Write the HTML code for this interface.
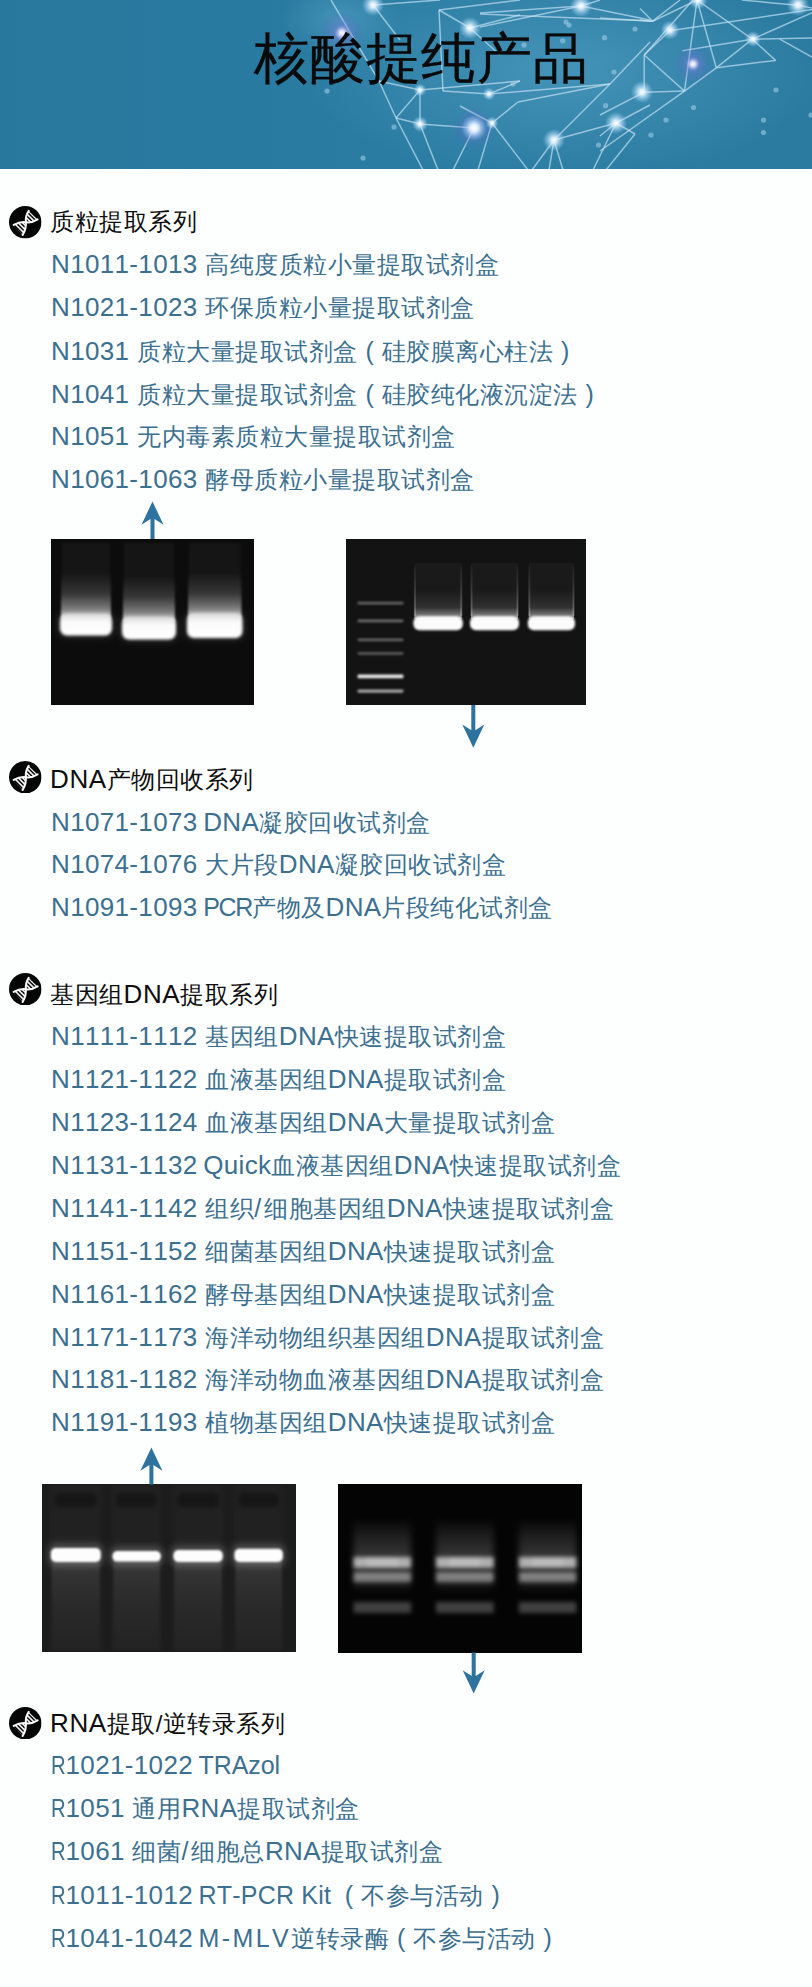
<!DOCTYPE html>
<html><head><meta charset="utf-8">
<style>
html,body{margin:0;padding:0;background:#fdfefe;}
body{width:812px;height:1987px;position:relative;overflow:hidden;font-family:"Liberation Sans",sans-serif;font-kerning:none;}
.banner{position:absolute;left:0;top:0;width:812px;height:169px;overflow:hidden;}
.title{position:absolute;left:254px;top:22.5px;font-size:55px;letter-spacing:0.8px;-webkit-text-stroke:0.35px #0a0a0a;line-height:70px;color:#0a0a0a;white-space:nowrap;}
.sec{position:absolute;left:50px;font-size:24px;letter-spacing:0.5px;line-height:30px;color:#0e0e0e;white-space:nowrap;}
.ico{position:absolute;left:9.2px;}
.it{position:absolute;left:51px;font-size:24px;letter-spacing:0.5px;line-height:30px;color:#3c7090;white-space:nowrap;}
b{font-weight:normal;font-size:26px;letter-spacing:0.35px;line-height:1px;}
.sec b{letter-spacing:0.6px;}
i{display:inline-block;width:7.7px;}
.pl,.pr{display:inline-block;width:24px;text-align:center;font-size:25px;letter-spacing:0;}
.pk{display:inline-block;width:22px;text-align:right;padding-right:8px;font-size:25px;letter-spacing:0;}
.r{display:inline-block;transform:scaleX(0.78);transform-origin:0 0;margin-right:-4.6px;}
.gel{position:absolute;}
</style></head><body>
<svg width="0" height="0" style="position:absolute"><defs>
<clipPath id="l1"><path d="M4.6,18.6 Q11,15.2 16.6,16 Q17.2,22 13.4,28.6 Z"/></clipPath><clipPath id="l2"><path d="M16.6,16 Q22.5,16.8 28.2,13.2 L19.4,4.8 Q16,10 16.6,16 Z"/></clipPath>
<symbol id="dna" viewBox="0 0 32 32">
<circle cx="16" cy="16" r="16" fill="#050505"/>
<g stroke="#f2f2f2" stroke-width="1.6" clip-path="url(#l1)"><line x1="-21.60" y1="11.60" x2="20.40" y2="53.60"/><line x1="-19.45" y1="9.45" x2="22.55" y2="51.45"/><line x1="-17.30" y1="7.30" x2="24.70" y2="49.30"/><line x1="-15.15" y1="5.15" x2="26.85" y2="47.15"/><line x1="-13.00" y1="3.00" x2="29.00" y2="45.00"/><line x1="-10.85" y1="0.85" x2="31.15" y2="42.85"/><line x1="-8.70" y1="-1.30" x2="33.30" y2="40.70"/><line x1="-6.55" y1="-3.45" x2="35.45" y2="38.55"/><line x1="-4.40" y1="-5.60" x2="37.60" y2="36.40"/><line x1="-2.25" y1="-7.75" x2="39.75" y2="34.25"/><line x1="-0.10" y1="-9.90" x2="41.90" y2="32.10"/><line x1="2.05" y1="-12.05" x2="44.05" y2="29.95"/><line x1="4.20" y1="-14.20" x2="46.20" y2="27.80"/><line x1="6.35" y1="-16.35" x2="48.35" y2="25.65"/><line x1="8.50" y1="-18.50" x2="50.50" y2="23.50"/><line x1="10.65" y1="-20.65" x2="52.65" y2="21.35"/><line x1="12.80" y1="-22.80" x2="54.80" y2="19.20"/></g>
<g stroke="#f2f2f2" stroke-width="1.6" clip-path="url(#l2)"><line x1="-21.60" y1="11.60" x2="20.40" y2="53.60"/><line x1="-19.45" y1="9.45" x2="22.55" y2="51.45"/><line x1="-17.30" y1="7.30" x2="24.70" y2="49.30"/><line x1="-15.15" y1="5.15" x2="26.85" y2="47.15"/><line x1="-13.00" y1="3.00" x2="29.00" y2="45.00"/><line x1="-10.85" y1="0.85" x2="31.15" y2="42.85"/><line x1="-8.70" y1="-1.30" x2="33.30" y2="40.70"/><line x1="-6.55" y1="-3.45" x2="35.45" y2="38.55"/><line x1="-4.40" y1="-5.60" x2="37.60" y2="36.40"/><line x1="-2.25" y1="-7.75" x2="39.75" y2="34.25"/><line x1="-0.10" y1="-9.90" x2="41.90" y2="32.10"/><line x1="2.05" y1="-12.05" x2="44.05" y2="29.95"/><line x1="4.20" y1="-14.20" x2="46.20" y2="27.80"/><line x1="6.35" y1="-16.35" x2="48.35" y2="25.65"/><line x1="8.50" y1="-18.50" x2="50.50" y2="23.50"/><line x1="10.65" y1="-20.65" x2="52.65" y2="21.35"/><line x1="12.80" y1="-22.80" x2="54.80" y2="19.20"/></g>
<path d="M4.6,18.6 Q11,15.2 16.6,16 Q22.5,16.8 28.2,13.2" stroke="#f8f8f8" stroke-width="2" fill="none" stroke-linecap="round"/>
<path d="M13.4,28.6 Q17.2,22 16.6,16 Q16,10 19.4,4.8" stroke="#f8f8f8" stroke-width="2" fill="none" stroke-linecap="round"/>
</symbol></defs></svg>
<svg width="0" height="0" style="position:absolute"><defs>
<filter id="blur05" x="-20%" y="-50%" width="140%" height="200%"><feGaussianBlur stdDeviation="0.6"/></filter>
<filter id="blur08" x="-20%" y="-50%" width="140%" height="200%"><feGaussianBlur stdDeviation="0.9"/></filter>
<filter id="blur1" x="-20%" y="-50%" width="140%" height="200%"><feGaussianBlur stdDeviation="1.3"/></filter>
<filter id="blur12" x="-20%" y="-50%" width="140%" height="200%"><feGaussianBlur stdDeviation="1.5"/></filter>
<filter id="blur2" x="-20%" y="-80%" width="140%" height="260%"><feGaussianBlur stdDeviation="2"/></filter>
<filter id="blur3" x="-20%" y="-30%" width="140%" height="160%"><feGaussianBlur stdDeviation="3"/></filter>
<linearGradient id="glowup" x1="0" y1="0" x2="0" y2="1"><stop offset="0" stop-color="#fff" stop-opacity="0"/><stop offset="0.45" stop-color="#fff" stop-opacity="0.14"/><stop offset="0.8" stop-color="#fff" stop-opacity="0.45"/><stop offset="1" stop-color="#fff" stop-opacity="0.85"/></linearGradient>
<linearGradient id="bandg" x1="0" y1="0" x2="0" y2="1"><stop offset="0" stop-color="#d8d8d8"/><stop offset="0.35" stop-color="#fafafa"/><stop offset="1" stop-color="#ffffff"/></linearGradient>
<linearGradient id="edge2" x1="0" y1="0" x2="0" y2="1"><stop offset="0" stop-color="#fff" stop-opacity="0.03"/><stop offset="1" stop-color="#fff" stop-opacity="0.25"/></linearGradient>
<linearGradient id="glowup2" x1="0" y1="0" x2="0" y2="1"><stop offset="0" stop-color="#fff" stop-opacity="0"/><stop offset="0.6" stop-color="#fff" stop-opacity="0.1"/><stop offset="1" stop-color="#fff" stop-opacity="0.55"/></linearGradient>
<linearGradient id="smear3" x1="0" y1="0" x2="0" y2="1"><stop offset="0" stop-color="#fff" stop-opacity="0.1"/><stop offset="0.5" stop-color="#fff" stop-opacity="0.04"/><stop offset="1" stop-color="#fff" stop-opacity="0.01"/></linearGradient>
<linearGradient id="haze4" x1="0" y1="0" x2="0" y2="1"><stop offset="0" stop-color="#fff" stop-opacity="0"/><stop offset="0.25" stop-color="#fff" stop-opacity="0.1"/><stop offset="0.55" stop-color="#fff" stop-opacity="0.2"/><stop offset="1" stop-color="#fff" stop-opacity="0.08"/></linearGradient>
</defs></svg>
<div class="banner"><svg width="812" height="169" viewBox="0 0 812 169" style="position:absolute;left:0;top:0">
<defs><linearGradient id="bg" x1="0" y1="0" x2="1" y2="0"><stop offset="0" stop-color="#28789e"/><stop offset="0.5" stop-color="#2a7ca2"/><stop offset="1" stop-color="#2b7ba1"/></linearGradient><radialGradient id="glow"><stop offset="0" stop-color="#ffffff" stop-opacity="1"/><stop offset="0.25" stop-color="#e8f6ff" stop-opacity="0.9"/><stop offset="1" stop-color="#9fd8ff" stop-opacity="0"/></radialGradient><radialGradient id="pglow"><stop offset="0" stop-color="#ffffff" stop-opacity="1"/><stop offset="0.13" stop-color="#e6e0ff" stop-opacity="0.9"/><stop offset="0.35" stop-color="#7a78d8" stop-opacity="0.4"/><stop offset="1" stop-color="#4a58b8" stop-opacity="0"/></radialGradient><radialGradient id="haze"><stop offset="0" stop-color="#5aa6cc" stop-opacity="0.55"/><stop offset="1" stop-color="#5aa6cc" stop-opacity="0"/></radialGradient></defs>
<rect width="812" height="169" fill="url(#bg)"/>
<ellipse cx="560" cy="70" rx="260" ry="110" fill="url(#haze)"/>
<ellipse cx="340" cy="20" rx="60" ry="40" fill="url(#haze)"/>
<g stroke="#c4e2f2" stroke-opacity="0.68" stroke-width="1.5" fill="none">
<line x1="331" y1="0" x2="379" y2="81"/>
<line x1="379" y1="81" x2="396" y2="118"/>
<line x1="396" y1="118" x2="423" y2="170"/>
<line x1="379" y1="81" x2="420" y2="90"/>
<line x1="420" y1="90" x2="396" y2="118"/>
<line x1="420" y1="90" x2="420" y2="124"/>
<line x1="396" y1="118" x2="420" y2="124"/>
<line x1="420" y1="124" x2="474" y2="128"/>
<line x1="420" y1="124" x2="438" y2="170"/>
<line x1="420" y1="90" x2="520" y2="81"/>
<line x1="474" y1="128" x2="453" y2="170"/>
<line x1="492" y1="123" x2="478" y2="170"/>
<line x1="460" y1="106" x2="492" y2="123"/>
<line x1="439" y1="10" x2="470" y2="28"/>
<line x1="439" y1="10" x2="443" y2="91"/>
<line x1="443" y1="91" x2="489" y2="94"/>
<line x1="439" y1="10" x2="520" y2="0"/>
<line x1="470" y1="28" x2="520" y2="15"/>
<line x1="480" y1="13" x2="581" y2="6"/>
<line x1="480" y1="27" x2="581" y2="6"/>
<line x1="581" y1="6" x2="650" y2="20"/>
<line x1="480" y1="14" x2="652" y2="21"/>
<line x1="489" y1="94" x2="610" y2="84"/>
<line x1="492" y1="123" x2="518" y2="102"/>
<line x1="518" y1="102" x2="610" y2="84"/>
<line x1="610" y1="84" x2="650" y2="42"/>
<line x1="554" y1="140" x2="610" y2="84"/>
<line x1="554" y1="140" x2="616" y2="123"/>
<line x1="616" y1="123" x2="650" y2="105"/>
<line x1="554" y1="140" x2="532" y2="170"/>
<line x1="554" y1="140" x2="563" y2="170"/>
<line x1="554" y1="140" x2="549" y2="170"/>
<line x1="492" y1="123" x2="528" y2="170"/>
<line x1="616" y1="123" x2="593" y2="170"/>
<line x1="616" y1="123" x2="635" y2="134"/>
<line x1="635" y1="134" x2="606" y2="170"/>
<line x1="373" y1="5" x2="440" y2="0"/>
<line x1="373" y1="5" x2="400" y2="40"/>
<line x1="581" y1="6" x2="600" y2="0"/>
<line x1="470" y1="28" x2="500" y2="55"/>
<line x1="489" y1="94" x2="520" y2="81"/>
<line x1="640" y1="8.5" x2="652.7" y2="21.2"/>
<line x1="640" y1="20" x2="652.7" y2="21.2"/>
<line x1="652.7" y1="21.2" x2="680" y2="0"/>
<line x1="652.7" y1="21.2" x2="697" y2="0"/>
<line x1="669.7" y1="30.7" x2="812" y2="9.5"/>
<line x1="697" y1="0" x2="716.3" y2="67.8"/>
<line x1="697" y1="0" x2="684.5" y2="91.1"/>
<line x1="697" y1="0" x2="752.3" y2="39.2"/>
<line x1="693" y1="0" x2="644.2" y2="55"/>
<line x1="644.2" y1="55" x2="684.5" y2="91.1"/>
<line x1="644.2" y1="55" x2="644.2" y2="92.2"/>
<line x1="644.2" y1="55" x2="669.7" y2="30.7"/>
<line x1="600" y1="151" x2="684.5" y2="91.1"/>
<line x1="684.5" y1="91.1" x2="716.3" y2="67.8"/>
<line x1="716.3" y1="67.8" x2="775.6" y2="60.4"/>
<line x1="775.6" y1="60.4" x2="752.3" y2="39.2"/>
<line x1="716.3" y1="67.8" x2="752.3" y2="39.2"/>
<line x1="752.3" y1="39.2" x2="812" y2="12.7"/>
<line x1="752.3" y1="39.2" x2="812" y2="38"/>
<line x1="779.8" y1="39.2" x2="812" y2="57"/>
<line x1="741.7" y1="0" x2="797.8" y2="5.3"/>
<line x1="644.2" y1="92.2" x2="684.5" y2="91.1"/>
<line x1="682.4" y1="50.8" x2="752.3" y2="39.2"/>
<line x1="600" y1="115" x2="644.2" y2="92.2"/>
<line x1="616" y1="123" x2="600" y2="136"/>
<line x1="600" y1="18" x2="652.7" y2="21.2"/>
<line x1="797.8" y1="5.3" x2="812" y2="8"/>
</g>
<g fill="#a9d2ea" fill-opacity="0.55">
<circle cx="327" cy="91" r="2.6"/>
<circle cx="394" cy="127" r="2.6"/>
<circle cx="363" cy="158" r="2.6"/>
<circle cx="513" cy="84" r="2.6"/>
<circle cx="569" cy="25" r="2.6"/>
<circle cx="604.6" cy="37.7" r="2.6"/>
<circle cx="635" cy="29" r="2.6"/>
<circle cx="562.7" cy="40.8" r="2.6"/>
<circle cx="614" cy="72" r="2.6"/>
<circle cx="605.6" cy="105.7" r="2.6"/>
<circle cx="776" cy="90" r="2.6"/>
<circle cx="763.5" cy="120" r="2.6"/>
<circle cx="763.5" cy="132.5" r="2.6"/>
<circle cx="693.5" cy="107.5" r="2.6"/>
<circle cx="666" cy="120" r="2.6"/>
<circle cx="651" cy="135" r="2.6"/>
<circle cx="598.5" cy="145" r="2.6"/>
<circle cx="811" cy="115" r="2.6"/>
<circle cx="524" cy="45" r="2.6"/>
<circle cx="566" cy="22" r="2.6"/>
</g>
<circle cx="342" cy="33" r="22" fill="url(#pglow)"/>
<circle cx="474" cy="128" r="22" fill="url(#pglow)"/>
<circle cx="693" cy="64" r="20" fill="url(#pglow)"/>
<circle cx="373" cy="5" r="11.200000000000001" fill="url(#glow)"/>
<circle cx="470" cy="28" r="11.200000000000001" fill="url(#glow)"/>
<circle cx="581" cy="6" r="11.200000000000001" fill="url(#glow)"/>
<circle cx="554" cy="140" r="11.200000000000001" fill="url(#glow)"/>
<circle cx="616" cy="123" r="11.200000000000001" fill="url(#glow)"/>
<circle cx="642" cy="92" r="11.200000000000001" fill="url(#glow)"/>
<circle cx="670" cy="30" r="9.600000000000001" fill="url(#glow)"/>
<circle cx="698" cy="0" r="9.600000000000001" fill="url(#glow)"/>
<circle cx="798" cy="5" r="11.200000000000001" fill="url(#glow)"/>
<circle cx="420" cy="124" r="8.0" fill="url(#glow)"/>
<circle cx="474" cy="128" r="12.8" fill="url(#glow)"/>
<circle cx="753" cy="39" r="8.0" fill="url(#glow)"/>
<circle cx="420" cy="90" r="6.4" fill="url(#glow)"/>
<circle cx="489" cy="94" r="6.4" fill="url(#glow)"/>
<circle cx="492" cy="123" r="6.4" fill="url(#glow)"/>
</svg></div>
<div class="title">核酸提纯产品</div>
<svg class="ico" style="top:206.2px" width="32.5" height="32.5"><use href="#dna"/></svg>
<div class="sec" style="top:207.4px">质粒提取系列</div>
<div class="it" style="top:250.0px"><b>N1011-1013</b><i></i>高纯度质粒小量提取试剂盒</div>
<div class="it" style="top:292.9px"><b>N1021-1023</b><i></i>环保质粒小量提取试剂盒</div>
<div class="it" style="top:335.8px"><b>N1031</b><i></i>质粒大量提取试剂盒<span class="pl">(</span>硅胶膜离心柱法<span class="pr">)</span></div>
<div class="it" style="top:378.7px"><b>N1041</b><i></i>质粒大量提取试剂盒<span class="pl">(</span>硅胶纯化液沉淀法<span class="pr">)</span></div>
<div class="it" style="top:421.6px"><b>N1051</b><i></i>无内毒素质粒大量提取试剂盒</div>
<div class="it" style="top:464.5px"><b>N1061-1063</b><i></i>酵母质粒小量提取试剂盒</div>
<svg class="ico" style="top:760.5px" width="32.5" height="32.5"><use href="#dna"/></svg>
<div class="sec" style="top:764.9px"><b>DNA</b>产物回收系列</div>
<div class="it" style="top:807.5px"><b>N1071-1073</b><i style="width:5.5px"></i><b>DNA</b>凝胶回收试剂盒</div>
<div class="it" style="top:850.4px"><b>N1074-1076</b><i></i>大片段<b>DNA</b>凝胶回收试剂盒</div>
<div class="it" style="top:893.3px"><b>N1091-1093</b><i style="width:5.5px"></i><b style="font-size:25px;letter-spacing:-1.3px">PCR</b>产物及<b>DNA</b>片段纯化试剂盒</div>
<svg class="ico" style="top:972.7px" width="32.5" height="32.5"><use href="#dna"/></svg>
<div class="sec" style="top:979.6px">基因组<b>DNA</b>提取系列</div>
<div class="it" style="top:1022.2px"><b>N1111-1112</b><i></i>基因组<b>DNA</b>快速提取试剂盒</div>
<div class="it" style="top:1065.1px"><b>N1121-1122</b><i></i>血液基因组<b>DNA</b>提取试剂盒</div>
<div class="it" style="top:1108.0px"><b>N1123-1124</b><i></i>血液基因组<b>DNA</b>大量提取试剂盒</div>
<div class="it" style="top:1150.9px"><b>N1131-1132</b><i style="width:5.5px"></i><b>Quick</b>血液基因组<b>DNA</b>快速提取试剂盒</div>
<div class="it" style="top:1193.8px"><b>N1141-1142</b><i></i>组织<b style="font-size:25px;letter-spacing:3px">/</b>细胞基因组<b>DNA</b>快速提取试剂盒</div>
<div class="it" style="top:1236.7px"><b>N1151-1152</b><i></i>细菌基因组<b>DNA</b>快速提取试剂盒</div>
<div class="it" style="top:1279.6px"><b>N1161-1162</b><i></i>酵母基因组<b>DNA</b>快速提取试剂盒</div>
<div class="it" style="top:1322.5px"><b>N1171-1173</b><i></i>海洋动物组织基因组<b>DNA</b>提取试剂盒</div>
<div class="it" style="top:1365.4px"><b>N1181-1182</b><i></i>海洋动物血液基因组<b>DNA</b>提取试剂盒</div>
<div class="it" style="top:1408.3px"><b>N1191-1193</b><i></i>植物基因组<b>DNA</b>快速提取试剂盒</div>
<svg class="ico" style="top:1706.9px" width="32.5" height="32.5"><use href="#dna"/></svg>
<div class="sec" style="top:1708.6px"><b>RNA</b>提取/逆转录系列</div>
<div class="it" style="top:1751.2px"><b><span class="r">R</span>1021-1022</b><i style="width:5.5px"></i><b style="font-size:25px;letter-spacing:-0.1px">TRAzol</b></div>
<div class="it" style="top:1794.1px"><b><span class="r">R</span>1051</b><i></i>通用<b>RNA</b>提取试剂盒</div>
<div class="it" style="top:1837.0px"><b><span class="r">R</span>1061</b><i></i>细菌<b style="font-size:25px;letter-spacing:3px">/</b>细胞总<b>RNA</b>提取试剂盒</div>
<div class="it" style="top:1879.9px"><b><span class="r">R</span>1011-1012</b><i style="width:5.5px"></i><b style="font-size:25px;letter-spacing:0.2px">RT-PCR Kit</b><span class="pk">(</span>不参与活动<span class="pr">)</span></div>
<div class="it" style="top:1922.8px"><b><span class="r">R</span>1041-1042</b><i style="width:5.5px"></i><b style="font-size:25px;letter-spacing:2.4px">M-MLV</b>逆转录酶<span class="pl">(</span>不参与活动<span class="pr">)</span></div>
<svg class="gel" style="left:51px;top:539px" width="203" height="166" viewBox="51 539 203 166"><rect x="51" y="539" width="203" height="166" fill="#0c0c0c"/><rect x="62" y="543" width="48" height="74" fill="#ffffff" fill-opacity="0.035" filter="url(#blur1)"/><rect x="61" y="573" width="50" height="46" fill="url(#glowup)" filter="url(#blur1)"/><rect x="58" y="611" width="56" height="26.5" rx="9" fill="#ffffff" fill-opacity="0.12" filter="url(#blur3)"/><rect x="60" y="614" width="52" height="21.5" rx="7" fill="url(#bandg)" filter="url(#blur12)"/><rect x="124" y="543" width="50" height="77" fill="#ffffff" fill-opacity="0.035" filter="url(#blur1)"/><rect x="123" y="576" width="52" height="46" fill="url(#glowup)" filter="url(#blur1)"/><rect x="120" y="614" width="58" height="27.5" rx="9" fill="#ffffff" fill-opacity="0.12" filter="url(#blur3)"/><rect x="122" y="617" width="54" height="22.5" rx="7" fill="url(#bandg)" filter="url(#blur12)"/><rect x="189" y="543" width="51.5" height="73.5" fill="#ffffff" fill-opacity="0.035" filter="url(#blur1)"/><rect x="188" y="572.5" width="53.5" height="46" fill="url(#glowup)" filter="url(#blur1)"/><rect x="185" y="610.5" width="59.5" height="29.5" rx="9" fill="#ffffff" fill-opacity="0.12" filter="url(#blur3)"/><rect x="187" y="613.5" width="55.5" height="24.5" rx="7" fill="url(#bandg)" filter="url(#blur12)"/></svg>
<svg class="gel" style="left:346px;top:539px" width="240" height="166" viewBox="346 539 240 166"><rect x="346" y="539" width="240" height="166" fill="#131313"/><rect x="357.5" y="601.8" width="46" height="2.8" rx="1.4" fill="#ffffff" fill-opacity="0.34" filter="url(#blur08)"/><rect x="357.5" y="619.5" width="46" height="2.8" rx="1.4" fill="#ffffff" fill-opacity="0.38" filter="url(#blur08)"/><rect x="357.5" y="638.4" width="46" height="2.8" rx="1.4" fill="#ffffff" fill-opacity="0.34" filter="url(#blur08)"/><rect x="357.5" y="652" width="46" height="2.8" rx="1.4" fill="#ffffff" fill-opacity="0.3" filter="url(#blur08)"/><rect x="357.5" y="674.5" width="46" height="3.8" rx="1.4" fill="#ffffff" fill-opacity="0.9" filter="url(#blur08)"/><rect x="357.5" y="689.5" width="46" height="3.2" rx="1.4" fill="#ffffff" fill-opacity="0.62" filter="url(#blur08)"/><rect x="414.4" y="563" width="47.400000000000034" height="54" fill="#ffffff" fill-opacity="0.03" filter="url(#blur05)"/><rect x="413.9" y="566" width="2" height="50" fill="url(#edge2)" filter="url(#blur05)"/><rect x="460.3" y="566" width="2" height="50" fill="url(#edge2)" filter="url(#blur05)"/><rect x="414.4" y="590" width="47.400000000000034" height="29" fill="url(#glowup2)" filter="url(#blur05)"/><rect x="413.4" y="616.3" width="49.400000000000034" height="14" rx="6" fill="#fbfbfb" filter="url(#blur08)"/><rect x="471" y="563" width="47" height="54" fill="#ffffff" fill-opacity="0.03" filter="url(#blur05)"/><rect x="470.5" y="566" width="2" height="50" fill="url(#edge2)" filter="url(#blur05)"/><rect x="516.5" y="566" width="2" height="50" fill="url(#edge2)" filter="url(#blur05)"/><rect x="471" y="590" width="47" height="29" fill="url(#glowup2)" filter="url(#blur05)"/><rect x="470" y="616.3" width="49" height="14" rx="6" fill="#fbfbfb" filter="url(#blur08)"/><rect x="528.8" y="563" width="45.200000000000045" height="54" fill="#ffffff" fill-opacity="0.03" filter="url(#blur05)"/><rect x="528.3" y="566" width="2" height="50" fill="url(#edge2)" filter="url(#blur05)"/><rect x="572.5" y="566" width="2" height="50" fill="url(#edge2)" filter="url(#blur05)"/><rect x="528.8" y="590" width="45.200000000000045" height="29" fill="url(#glowup2)" filter="url(#blur05)"/><rect x="527.8" y="616.3" width="47.200000000000045" height="14" rx="6" fill="#fbfbfb" filter="url(#blur08)"/></svg>
<svg class="gel" style="left:42px;top:1484px" width="254" height="168" viewBox="42 1484 254 168"><rect x="42" y="1484" width="254" height="168" fill="#1c1c1c"/><rect x="50.8" y="1486" width="50.0" height="164" fill="#ffffff" fill-opacity="0.025" filter="url(#blur2)"/><rect x="54.8" y="1493" width="42.0" height="14" rx="5" fill="#050505" fill-opacity="0.35" filter="url(#blur2)"/><rect x="47.8" y="1543" width="56.0" height="24" rx="8" fill="#ffffff" fill-opacity="0.18" filter="url(#blur3)"/><rect x="51.8" y="1560" width="48.0" height="90" fill="url(#smear3)" filter="url(#blur1)"/><rect x="50.8" y="1548" width="50.0" height="14" rx="5" fill="#fdfdfd" filter="url(#blur08)"/><rect x="112.4" y="1486" width="48.5" height="164" fill="#ffffff" fill-opacity="0.025" filter="url(#blur2)"/><rect x="116.4" y="1493" width="40.5" height="14" rx="5" fill="#050505" fill-opacity="0.35" filter="url(#blur2)"/><rect x="109.4" y="1546" width="54.5" height="20.59999999999991" rx="8" fill="#ffffff" fill-opacity="0.18" filter="url(#blur3)"/><rect x="113.4" y="1559.6" width="46.5" height="90" fill="url(#smear3)" filter="url(#blur1)"/><rect x="112.4" y="1551" width="48.5" height="10.599999999999909" rx="5" fill="#fdfdfd" filter="url(#blur08)"/><rect x="173.4" y="1486" width="49.400000000000006" height="164" fill="#ffffff" fill-opacity="0.025" filter="url(#blur2)"/><rect x="177.4" y="1493" width="41.400000000000006" height="14" rx="5" fill="#050505" fill-opacity="0.35" filter="url(#blur2)"/><rect x="170.4" y="1545" width="55.400000000000006" height="22" rx="8" fill="#ffffff" fill-opacity="0.18" filter="url(#blur3)"/><rect x="174.4" y="1560" width="47.400000000000006" height="90" fill="url(#smear3)" filter="url(#blur1)"/><rect x="173.4" y="1550" width="49.400000000000006" height="12" rx="5" fill="#fdfdfd" filter="url(#blur08)"/><rect x="234.4" y="1486" width="48.49999999999997" height="164" fill="#ffffff" fill-opacity="0.025" filter="url(#blur2)"/><rect x="238.4" y="1493" width="40.49999999999997" height="14" rx="5" fill="#050505" fill-opacity="0.35" filter="url(#blur2)"/><rect x="231.4" y="1543.7" width="54.49999999999997" height="23.299999999999955" rx="8" fill="#ffffff" fill-opacity="0.18" filter="url(#blur3)"/><rect x="235.4" y="1560" width="46.49999999999997" height="90" fill="url(#smear3)" filter="url(#blur1)"/><rect x="234.4" y="1548.7" width="48.49999999999997" height="13.299999999999955" rx="5" fill="#fdfdfd" filter="url(#blur08)"/></svg>
<svg class="gel" style="left:338px;top:1484px" width="244" height="169" viewBox="338 1484 244 169"><rect x="338" y="1484" width="244" height="169" fill="#040404"/><rect x="353.5" y="1518" width="57.60000000000002" height="70" fill="url(#haze4)" filter="url(#blur3)"/><rect x="353.5" y="1557" width="57.60000000000002" height="11" fill="#ffffff" fill-opacity="0.62" filter="url(#blur2)"/><rect x="366.9" y="1558" width="30.80000000000001" height="8" fill="#ffffff" fill-opacity="0.15" filter="url(#blur2)"/><rect x="353.5" y="1572" width="57.60000000000002" height="10" fill="#ffffff" fill-opacity="0.42" filter="url(#blur2)"/><rect x="353.5" y="1602" width="57.60000000000002" height="11" fill="#ffffff" fill-opacity="0.24" filter="url(#blur2)"/><rect x="436" y="1518" width="57.69999999999999" height="70" fill="url(#haze4)" filter="url(#blur3)"/><rect x="436" y="1557" width="57.69999999999999" height="11" fill="#ffffff" fill-opacity="0.62" filter="url(#blur2)"/><rect x="449.425" y="1558" width="30.849999999999994" height="8" fill="#ffffff" fill-opacity="0.15" filter="url(#blur2)"/><rect x="436" y="1572" width="57.69999999999999" height="10" fill="#ffffff" fill-opacity="0.42" filter="url(#blur2)"/><rect x="436" y="1602" width="57.69999999999999" height="11" fill="#ffffff" fill-opacity="0.24" filter="url(#blur2)"/><rect x="518.8" y="1518" width="57.60000000000002" height="70" fill="url(#haze4)" filter="url(#blur3)"/><rect x="518.8" y="1557" width="57.60000000000002" height="11" fill="#ffffff" fill-opacity="0.62" filter="url(#blur2)"/><rect x="532.1999999999999" y="1558" width="30.80000000000001" height="8" fill="#ffffff" fill-opacity="0.15" filter="url(#blur2)"/><rect x="518.8" y="1572" width="57.60000000000002" height="10" fill="#ffffff" fill-opacity="0.42" filter="url(#blur2)"/><rect x="518.8" y="1602" width="57.60000000000002" height="11" fill="#ffffff" fill-opacity="0.24" filter="url(#blur2)"/></svg>
<svg width="812" height="1987" style="position:absolute;left:0;top:0;pointer-events:none"><path d="M152.5,501.5 L163.5,524.7 L154.5,519.0 L154.5,539 L150.5,539 L150.5,519.0 L141.5,524.7 Z" fill="#2e73a0"/><path d="M473.3,747.7 L484.3,724.5 L475.3,730.2 L475.3,705 L471.3,705 L471.3,730.2 L462.3,724.5 Z" fill="#2e73a0"/><path d="M151.4,1447.6 L162.4,1470.8 L153.4,1465.1 L153.4,1484.5 L149.4,1484.5 L149.4,1465.1 L140.4,1470.8 Z" fill="#2e73a0"/><path d="M473.7,1693.5 L484.7,1670.3 L475.7,1676.0 L475.7,1652.5 L471.7,1652.5 L471.7,1676.0 L462.7,1670.3 Z" fill="#2e73a0"/></svg>
</body></html>
